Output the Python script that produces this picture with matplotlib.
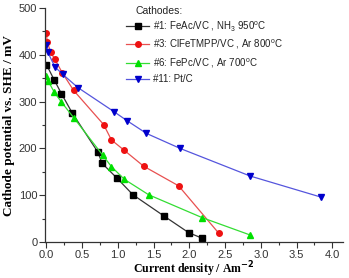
import matplotlib
matplotlib.use("Agg")
import matplotlib.pyplot as plt
from matplotlib.ticker import MultipleLocator

# Data
x1 = [0.00, 0.11, 0.21, 0.36, 0.72, 0.78, 0.99, 1.21, 1.65, 1.99, 2.18]
y1 = [379, 346, 317, 276, 192, 168, 136, 101, 55, 20, 8]

x3 = [0.00, 0.01, 0.06, 0.12, 0.22, 0.38, 0.80, 0.91, 1.08, 1.36, 1.85, 2.41]
y3 = [447, 428, 405, 390, 362, 324, 251, 218, 197, 162, 120, 19]

x6 = [0.00, 0.02, 0.11, 0.21, 0.39, 0.79, 0.91, 1.09, 1.43, 2.18, 2.85]
y6 = [355, 345, 320, 299, 264, 185, 161, 134, 101, 52, 15]

x11 = [0.00, 0.02, 0.12, 0.23, 0.44, 0.95, 1.13, 1.40, 1.87, 2.85, 3.84]
y11 = [420, 405, 374, 358, 330, 278, 259, 232, 200, 141, 96]

labels = ["#1: FeAc/VC , NH$_3$ 950$^{\\mathregular{o}}$C",
          "#3: ClFeTMPP/VC , Ar 800$^{\\mathregular{o}}$C",
          "#6: FePc/VC , Ar 700$^{\\mathregular{o}}$C",
          "#11: Pt/C"]
legend_title = "Cathodes:"

plt.rcParams['font.family'] = ['Liberation Sans', 'DejaVu Sans']
plt.rcParams['mathtext.fontset'] = 'custom'
plt.rcParams['mathtext.rm'] = 'Liberation Sans'

fig = plt.figure(figsize=(3.49, 2.78), dpi=100)
ax = fig.add_axes([45/349, 36/278, (343-45)/349, (242-8)/278])

lw = 0.9
ms = 4
ax.plot(x1, y1, color='#333333', lw=lw, marker='s', ms=ms, mfc='black', mec='black', label=labels[0])
ax.plot(x3, y3, color='#e85050', lw=lw, marker='o', ms=ms, mfc='#ee1111', mec='#ee1111', label=labels[1])
ax.plot(x6, y6, color='#33dd33', lw=lw, marker='^', ms=ms+1, mfc='#00e000', mec='#00e000', label=labels[2])
ax.plot(x11, y11, color='#5555dd', lw=lw, marker='v', ms=ms+1, mfc='#0000cc', mec='#0000cc', label=labels[3])

ax.set_xlim(-0.02, 4.15)
ax.set_ylim(0, 500)
ax.xaxis.set_major_locator(MultipleLocator(0.5))
ax.xaxis.set_minor_locator(MultipleLocator(0.25))
ax.yaxis.set_major_locator(MultipleLocator(100))
ax.yaxis.set_minor_locator(MultipleLocator(50))
ax.spines['top'].set_visible(False)
ax.spines['right'].set_visible(False)
for s in ('left', 'bottom'):
    ax.spines[s].set_color('#333333')
    ax.spines[s].set_linewidth(0.9)
ax.tick_params(which='major', direction='out', length=4, width=0.8, labelsize=8, colors='#333333', pad=1.5)
ax.tick_params(which='minor', direction='out', length=2.5, width=0.8, colors='#333333')
ax.set_xticks([0, 0.5, 1.0, 1.5, 2.0, 2.5, 3.0, 3.5, 4.0])
ax.set_xticklabels(['0.0', '0.5', '1.0', '1.5', '2.0', '2.5', '3.0', '3.5', '4.0'])

ax.set_xlabel('Current density / Am$^{\\mathbf{-2}}$', family='Liberation Serif',
              fontweight='bold', fontsize=8.5, labelpad=0)
ax.set_ylabel('Cathode potential vs. SHE / mV', family='Liberation Serif',
              fontweight='bold', fontsize=9.5, labelpad=3)

fig.text(136/349, 1 - 11/278, legend_title, fontsize=7.5, color='#222222',
         ha='left', va='center')
leg = fig.legend(handles=ax.get_lines(), labels=labels, loc='upper left',
                 bbox_to_anchor=(126/349, 1 - 19/278), frameon=False,
                 fontsize=7, handlelength=2.4, handletextpad=0.4,
                 labelspacing=0.5, borderpad=0, borderaxespad=0)
for t in leg.get_texts():
    t.set_color('#222222')

fig.savefig('out.png', dpi=100)
